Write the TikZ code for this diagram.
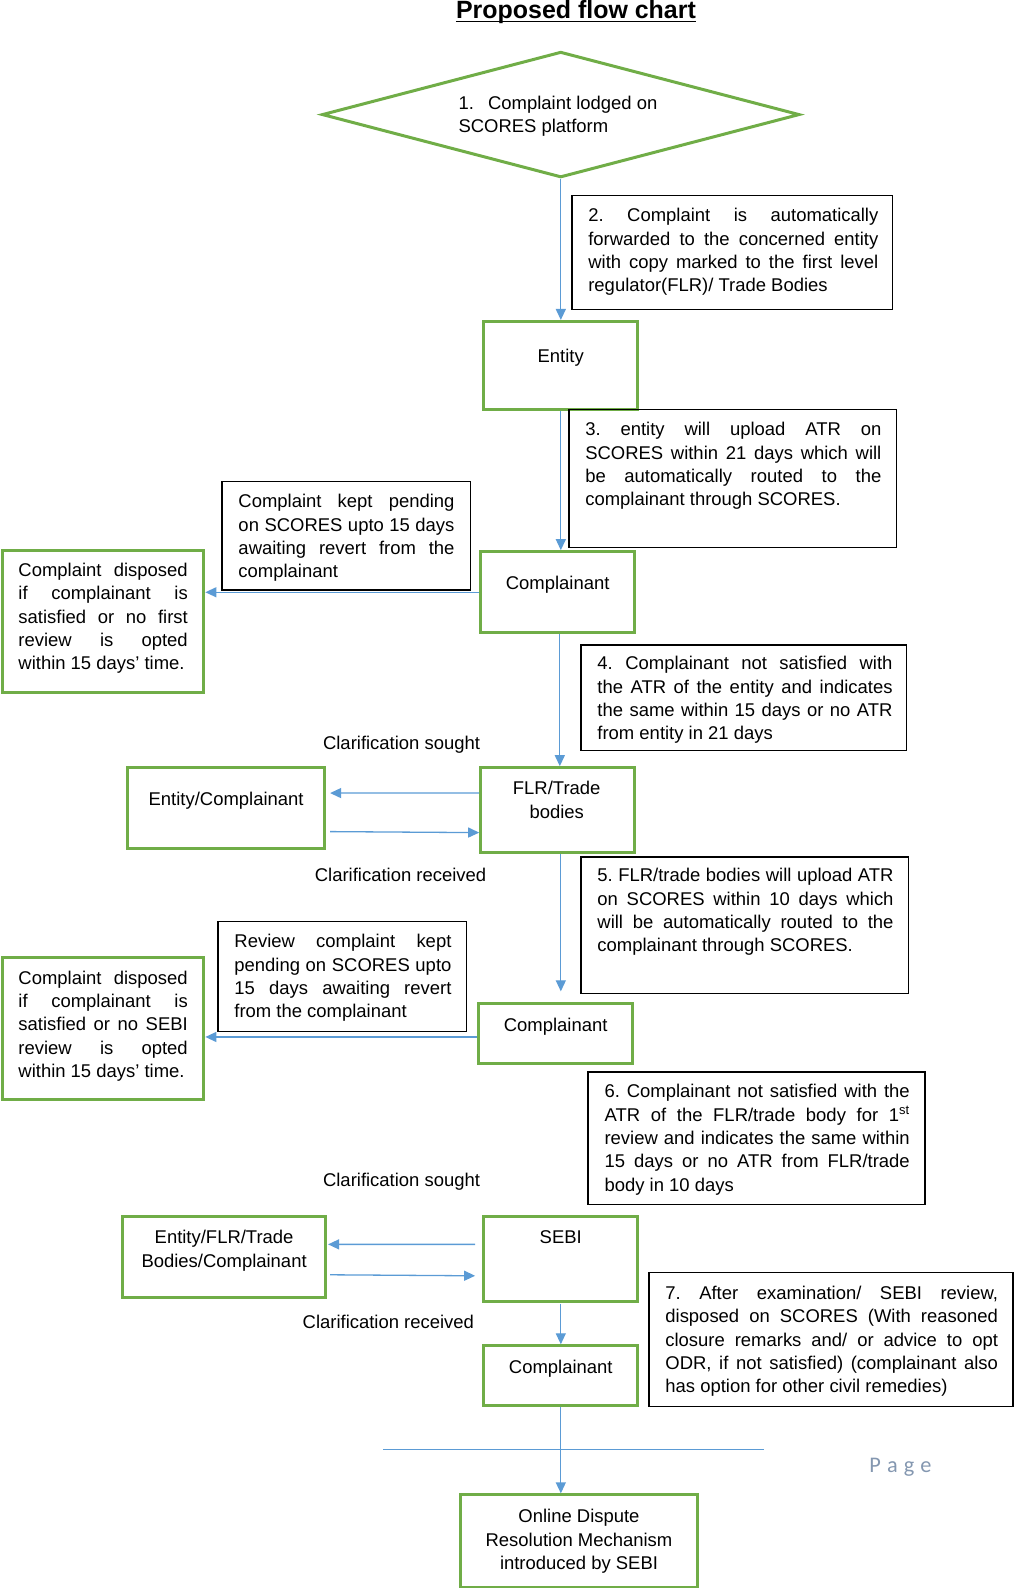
\documentclass[tikz,border=0pt]{standalone}
\usepackage{fontspec}
\setmainfont{Liberation Sans}
\newfontfamily\pagefont{Carlito}
\usetikzlibrary{shapes.geometric,arrows.meta}
\definecolor{gr}{HTML}{70AD47}
\definecolor{bl}{HTML}{5B9BD5}
\definecolor{pg}{HTML}{8497B0}
\frenchspacing
\begin{document}
\begin{tikzpicture}[x=1pt,y=-1pt,scale=1.014,transform shape,
  gbox/.style={draw=gr,line width=3pt,rectangle,inner sep=0pt},
  bbox/.style={draw=black,line width=1.5pt,rectangle,inner sep=0pt},
  body/.style={font=\fontsize{18.2}{23}\selectfont,inner sep=0pt,align=justify,anchor=north west,
    execute at begin node={\frenchspacing\parindent=0pt\tolerance=10000\hyphenpenalty=10000}},
  ctr/.style={font=\fontsize{18.2}{23}\selectfont,inner sep=0pt,align=center,anchor=north},
  lbl/.style={font=\fontsize{18.2}{23}\selectfont,inner sep=0pt,anchor=base},
  arr/.style={draw=bl,line width=1.3pt,-{Triangle[length=11pt,width=10pt]}},
]
\useasboundingbox (0,0) rectangle (999.01,1566.07);

% title
\node[font=\bfseries\fontsize{24.6}{29}\selectfont,inner sep=0pt,anchor=base] (title) at (568,18) {Proposed flow chart};
\draw[line width=1.4pt] ([yshift=-3pt]title.base west) -- ([yshift=-3pt]title.base east);

% shapes
\node[diamond,draw=gr,line width=3pt,minimum width=471pt,minimum height=124pt,inner sep=0pt] (d) at (553,113) {};
\node[bbox,minimum width=316pt,minimum height=112pt] (b2) at (722,249) {};
\node[gbox,minimum width=152pt,minimum height=87pt] (ent) at (553,360.5) {};
\node[bbox,minimum width=323pt,minimum height=136pt] (b3) at (722.5,472) {};
\node[gbox,minimum width=152pt,minimum height=80pt] (c1) at (550,584) {};
\node[bbox,minimum width=245pt,minimum height=107pt] (pend) at (341.5,528.5) {};
\node[gbox,minimum width=199pt,minimum height=140pt] (d1) at (101.5,613) {};
\node[bbox,minimum width=321pt,minimum height=104pt] (b4) at (733.5,688) {};
\node[gbox,minimum width=152pt,minimum height=84pt] (flr) at (550,799) {};
\node[gbox,minimum width=194pt,minimum height=80pt] (ec) at (223,797) {};
\node[bbox,minimum width=323pt,minimum height=135pt] (b5) at (734.5,912.5) {};
\node[gbox,minimum width=152pt,minimum height=59pt] (c2) at (548,1019.5) {};
\node[bbox,minimum width=245pt,minimum height=108pt] (rev) at (337.5,963) {};
\node[gbox,minimum width=199pt,minimum height=140pt] (d2) at (101.5,1014) {};
\node[bbox,minimum width=332pt,minimum height=131pt] (b6) at (746,1122.5) {};
\node[gbox,minimum width=200pt,minimum height=80pt] (eftb) at (221,1240) {};
\node[gbox,minimum width=152pt,minimum height=84pt] (sebi) at (553,1242) {};
\node[gbox,minimum width=152pt,minimum height=59pt] (c3) at (553,1356.5) {};
\node[bbox,minimum width=359pt,minimum height=132pt] (b7) at (819.5,1321) {};
\node[gbox,minimum width=234pt,minimum height=92pt] (odr) at (571,1520) {};

% texts
\node[body,align=left] (t1) at (452,91.4) {\strut 1.\hspace{14pt}Complaint lodged on\\SCORES platform};
\node[body,text width=286pt] (t2) at (580,202.4) {\strut 2. Complaint is automatically\linebreak forwarded to the concerned entity\linebreak with copy marked to the first level\linebreak regulator(FLR)/ Trade Bodies};
\node[lbl] (tent) at (553,357.5) {Entity};
\node[body,text width=292pt] (t3) at (577,413.4) {\strut 3. entity will upload ATR on\linebreak SCORES within 21 days which will\linebreak be automatically routed to the\linebreak complainant through SCORES.};
\node[body,text width=213pt] (tpend) at (235,484.4) {\strut Complaint kept pending\linebreak on SCORES upto 15 days\linebreak awaiting revert from the\linebreak complainant};
\node[lbl] (tc1) at (550,581.5) {Complainant};
\node[body,text width=167pt] (td1) at (18,552.4) {\strut Complaint disposed\linebreak if complainant is\linebreak satisfied or no first\linebreak review is opted\linebreak within 15 days’ time.};
\node[body,text width=291pt] (t4) at (589,644.4) {\strut 4. Complainant not satisfied with\linebreak the ATR of the entity and indicates\linebreak the same within 15 days or no ATR\linebreak from entity in 21 days};
\node[lbl] (cs1) at (396,739.5) {Clarification sought};
\node[ctr] (tflr) at (549,767.4) {\strut FLR/Trade\\bodies};
\node[lbl] (tec) at (223,794.5) {Entity/Complainant};
\node[lbl] (cr1) at (395,869.5) {Clarification received};
\node[body,text width=292pt] (t5) at (589,853.4) {\strut 5. FLR/trade bodies will upload ATR\linebreak on SCORES within 10 days which\linebreak will be automatically routed to the\linebreak complainant through SCORES.};
\node[body,text width=214pt] (trev) at (231,918.4) {\strut Review complaint kept\linebreak pending on SCORES upto\linebreak 15 days awaiting revert\linebreak from the complainant};
\node[lbl] (tc2) at (548,1017.5) {Complainant};
\node[body,text width=167pt] (td2) at (18,954.4) {\strut Complaint disposed\linebreak if complainant is\linebreak satisfied or no SEBI\linebreak review is opted\linebreak within 15 days’ time.};
\node[body,text width=301pt] (t6) at (596,1066.4) {\strut 6. Complainant not satisfied with the\linebreak ATR of the FLR/trade body for 1\textsuperscript{st}\linebreak review and indicates the same within\linebreak 15 days or no ATR from FLR/trade\linebreak body in 10 days};
\node[lbl] (cs2) at (396,1170.5) {Clarification sought};
\node[ctr] (teftb) at (221,1210.4) {\strut Entity/FLR/Trade\\Bodies/Complainant};
\node[lbl] (tsebi) at (553,1226.5) {SEBI};
\node[lbl] (cr2) at (383,1310.5) {Clarification received};
\node[lbl] (tc3) at (553,1354.5) {Complainant};
\node[body,text width=328pt] (t7) at (656,1265.4) {\strut 7. After examination/ SEBI review,\linebreak disposed on SCORES (With reasoned\linebreak closure remarks and/ or advice to opt\linebreak ODR, if not satisfied) (complainant also\linebreak has option for other civil remedies)};
\node[ctr] (todr) at (571,1485.4) {\strut Online Dispute\\Resolution Mechanism\\introduced by SEBI};
\node[font=\pagefont\fontsize{22}{26}\selectfont,text=pg,inner sep=0pt] (pg) at (888,1447) {P\hspace{6pt}a\hspace{6pt}g\hspace{6pt}e};

% connectors
\draw[arr] (d.south) -- (ent.north);
\draw[arr] (ent.south) -- (ent.south |- c1.north);
\draw[arr] (c1.west) -- (c1.west -| d1.east);
\draw[arr] ([xshift=2pt]c1.south) -- ([xshift=2pt]c1.south |- flr.north);
\draw[arr] ([yshift=17pt]flr.west) -- ([xshift=4pt,yshift=15pt]ec.east);
\draw[arr] ([xshift=4pt,yshift=-23pt]ec.east) -- ([yshift=-22pt]flr.west);
\draw[arr] ([xshift=3pt]flr.south) -- ([xshift=3pt,yshift=11pt]flr.south |- c2.north);
\draw[arr] ([yshift=-3pt]c2.west) -- ([yshift=-3pt]c2.west -| d2.east);
\draw[arr] ([xshift=-7pt,yshift=15pt]sebi.west) -- ([xshift=1pt,yshift=13pt]eftb.east);
\draw[arr] ([xshift=3pt,yshift=-17pt]eftb.east) -- ([xshift=-7pt,yshift=-16pt]sebi.west);
\draw[arr] (sebi.south) -- (c3.north);
\draw[arr] (c3.south) -- (c3.south |- odr.north);
\coordinate (hl1) at (378,1429);
\coordinate (hl2) at (753,1429);
\draw[draw=bl,line width=1.3pt] (hl1) -- (hl2);
\end{tikzpicture}
\end{document}
